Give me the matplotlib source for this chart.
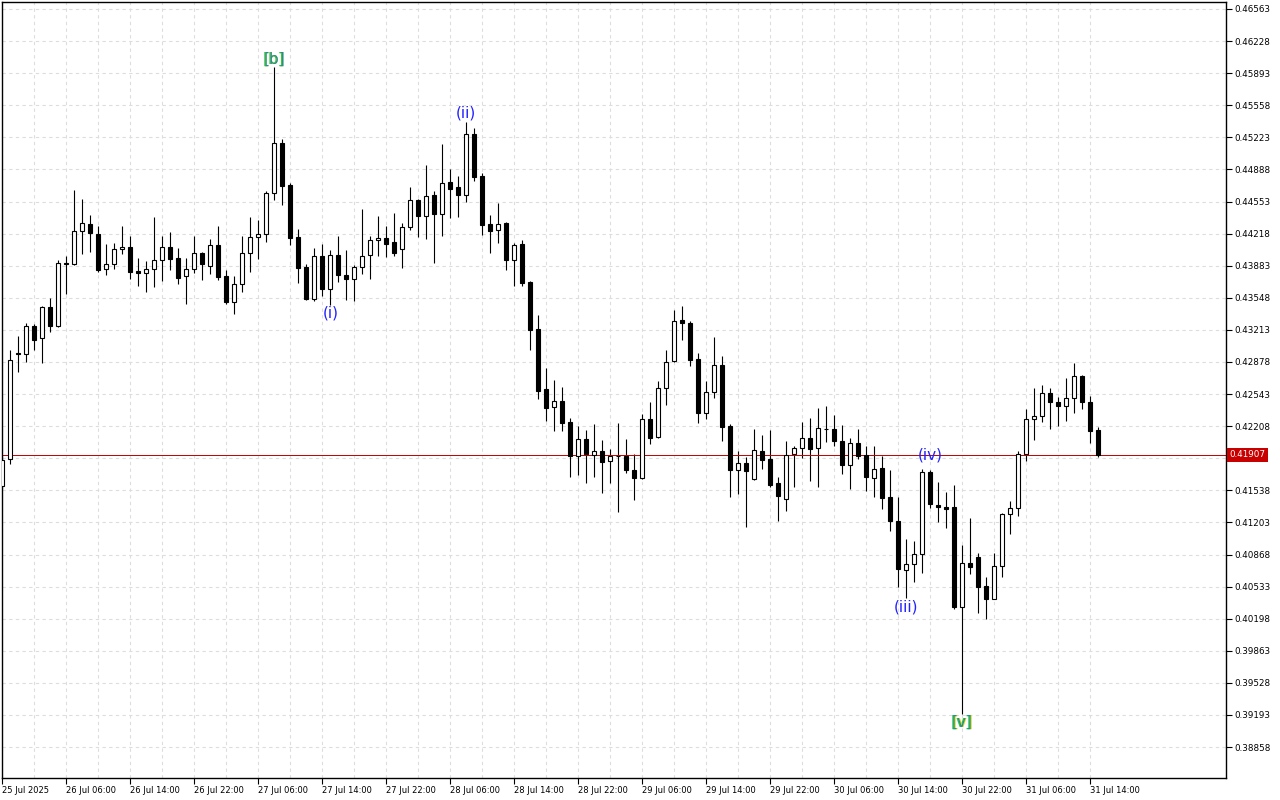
import numpy as np
import pandas as pd
import matplotlib
matplotlib.use("Agg")
import matplotlib.pyplot as plt
import matplotlib.transforms as mtransforms

# hourly bars, 25 Jul 22:00 -> 31 Jul 15:00
start = pd.Timestamp("2025-07-25 22:00")

opens = [
    0.41583, 0.41862, 0.42969, 0.42965, 0.43251, 0.43125, 0.43449, 0.43257, 0.43908, 0.43898,
    0.44242, 0.44319, 0.44214, 0.43846, 0.43898, 0.44055, 0.44075, 0.43828, 0.43804, 0.43846,
    0.43940, 0.44075, 0.43961, 0.43773, 0.43852, 0.44013, 0.43877, 0.44096, 0.43773, 0.43507,
    0.43695, 0.44013, 0.44180, 0.44211, 0.44639, 0.45161, 0.44723, 0.44180, 0.43867, 0.43539,
    0.43981, 0.43643, 0.43992, 0.43783, 0.43741, 0.43873, 0.43992, 0.44148, 0.44172, 0.44128,
    0.44055, 0.44284, 0.44569, 0.44405, 0.44618, 0.44426, 0.44757, 0.44702, 0.44618, 0.45255,
    0.44817, 0.44319, 0.44253, 0.44326, 0.43946, 0.44107, 0.43710, 0.43219, 0.42593, 0.42405,
    0.42468, 0.42248, 0.41894, 0.42071, 0.41904, 0.41946, 0.41841, 0.41897, 0.41897, 0.41747,
    0.41670, 0.42280, 0.42092, 0.42603, 0.42885, 0.43313, 0.43282, 0.42906, 0.42342, 0.42562,
    0.42843, 0.42207, 0.41754, 0.41820, 0.41657, 0.41946, 0.41862, 0.41612, 0.41445, 0.41914,
    0.41977, 0.42081, 0.41977, 0.42175, 0.42175, 0.42050, 0.41800, 0.42029, 0.41904, 0.41664,
    0.41768, 0.41465, 0.41215, 0.40703, 0.40766, 0.40870, 0.41733, 0.41388, 0.41361, 0.41361,
    0.40323, 0.40777, 0.40839, 0.40536, 0.40407, 0.40745, 0.41288, 0.41351, 0.41914, 0.42280,
    0.42311, 0.42551, 0.42457, 0.42416, 0.42499, 0.42729, 0.42457, 0.42165]

highs = [
    0.41897, 0.43000, 0.43149, 0.43282, 0.43275, 0.43466, 0.43546, 0.43943, 0.43985, 0.44674,
    0.44580, 0.44413, 0.44298, 0.44107, 0.44120, 0.44298, 0.44193, 0.43961, 0.43932, 0.44392,
    0.44190, 0.44235, 0.44065, 0.43961, 0.44190, 0.44023, 0.44159, 0.44298, 0.43838, 0.43773,
    0.44190, 0.44392, 0.44360, 0.44666, 0.45961, 0.45206, 0.44744, 0.44263, 0.43898, 0.44065,
    0.44110, 0.44044, 0.44190, 0.44047, 0.43887, 0.44475, 0.44193, 0.44402, 0.44298, 0.44433,
    0.44329, 0.44702, 0.44576, 0.44935, 0.44660, 0.45154, 0.44890, 0.44820, 0.45383, 0.45318,
    0.44848, 0.44409, 0.44535, 0.44336, 0.44117, 0.44148, 0.43724, 0.43369, 0.42815, 0.42690,
    0.42617, 0.42293, 0.42207, 0.42168, 0.42231, 0.42061, 0.41967, 0.42241, 0.42074, 0.41918,
    0.42332, 0.42460, 0.42680, 0.43003, 0.43421, 0.43463, 0.43306, 0.42972, 0.42680, 0.43136,
    0.42937, 0.42231, 0.41949, 0.41889, 0.42179, 0.42116, 0.42168, 0.41674, 0.42053, 0.42004,
    0.42248, 0.42290, 0.42395, 0.42419, 0.42322, 0.42220, 0.42081, 0.42175, 0.42001, 0.42001,
    0.41894, 0.41750, 0.41465, 0.41033, 0.41012, 0.41761, 0.41750, 0.41622, 0.41521, 0.41591,
    0.40968, 0.41246, 0.40881, 0.40630, 0.40884, 0.41302, 0.41427, 0.41949, 0.42384, 0.42607,
    0.42638, 0.42607, 0.42509, 0.42708, 0.42864, 0.42737, 0.42520, 0.42196]

lows = [
    0.41552, 0.41816, 0.42777, 0.42881, 0.43003, 0.42871, 0.43194, 0.43246, 0.43591, 0.43891,
    0.44002, 0.44029, 0.43821, 0.43789, 0.43846, 0.44009, 0.43741, 0.43675, 0.43612, 0.43664,
    0.43727, 0.43842, 0.43695, 0.43487, 0.43804, 0.43737, 0.43800, 0.43737, 0.43487, 0.43382,
    0.43612, 0.43821, 0.43956, 0.44134, 0.44569, 0.44520, 0.44103, 0.43700, 0.43522, 0.43518,
    0.43570, 0.43470, 0.43716, 0.43528, 0.43518, 0.43797, 0.43748, 0.43988, 0.43977, 0.43988,
    0.43862, 0.44259, 0.44186, 0.44165, 0.43915, 0.44196, 0.44384, 0.44395, 0.44545, 0.44771,
    0.44201, 0.44019, 0.44123, 0.43838, 0.43675, 0.43675, 0.43006, 0.42492, 0.42265, 0.42161,
    0.42161, 0.41681, 0.41698, 0.41618, 0.41681, 0.41514, 0.41618, 0.41315, 0.41722, 0.41440,
    0.41660, 0.42025, 0.42085, 0.42432, 0.42880, 0.43111, 0.42839, 0.42244, 0.42286, 0.42505,
    0.42056, 0.41472, 0.41503, 0.41159, 0.41646, 0.41761, 0.41570, 0.41221, 0.41326, 0.41576,
    0.41879, 0.41639, 0.41576, 0.42040, 0.42004, 0.41709, 0.41555, 0.41862, 0.41528, 0.41465,
    0.41340, 0.41117, 0.40526, 0.40411, 0.40584, 0.40678, 0.41351, 0.41211, 0.41148, 0.40303,
    0.39203, 0.40662, 0.40255, 0.40192, 0.40401, 0.40637, 0.41086, 0.41267, 0.41841, 0.42067,
    0.42255, 0.42182, 0.42210, 0.42265, 0.42349, 0.42384, 0.42036, 0.41889]

closes = [
    0.41855, 0.42896, 0.42961, 0.43251, 0.43111, 0.43449, 0.43257, 0.43908, 0.43898, 0.44242,
    0.44326, 0.44222, 0.43842, 0.43898, 0.44055, 0.44075, 0.43821, 0.43804, 0.43846, 0.43940,
    0.44075, 0.43956, 0.43758, 0.43852, 0.44013, 0.43904, 0.44096, 0.43768, 0.43507, 0.43695,
    0.44013, 0.44180, 0.44214, 0.44639, 0.45161, 0.44718, 0.44176, 0.43862, 0.43539, 0.43981,
    0.43643, 0.43992, 0.43789, 0.43748, 0.43873, 0.43981, 0.44148, 0.44172, 0.44113, 0.44019,
    0.44284, 0.44566, 0.44405, 0.44608, 0.44426, 0.44744, 0.44687, 0.44624, 0.45255, 0.44812,
    0.44311, 0.44249, 0.44315, 0.43946, 0.44096, 0.43706, 0.43215, 0.42578, 0.42401, 0.42468,
    0.42244, 0.41900, 0.42071, 0.41918, 0.41946, 0.41837, 0.41897, 0.41892, 0.41754, 0.41670,
    0.42280, 0.42088, 0.42603, 0.42875, 0.43303, 0.43282, 0.42902, 0.42349, 0.42562, 0.42843,
    0.42196, 0.41754, 0.41820, 0.41743, 0.41956, 0.41858, 0.41594, 0.41482, 0.41904, 0.41977,
    0.42081, 0.41973, 0.42186, 0.42175, 0.42050, 0.41798, 0.42029, 0.41894, 0.41674, 0.41758,
    0.41461, 0.41215, 0.40714, 0.40772, 0.40877, 0.41733, 0.41392, 0.41361, 0.41347, 0.40323,
    0.40783, 0.40741, 0.40532, 0.40407, 0.40745, 0.41288, 0.41351, 0.41921, 0.42280, 0.42311,
    0.42551, 0.42457, 0.42416, 0.42499, 0.42729, 0.42457, 0.42161, 0.41907]

last_price = 0.41907

y_ticks = [0.46563, 0.46228, 0.45893, 0.45558, 0.45223, 0.44888, 0.44553, 0.44218,
           0.43883, 0.43548, 0.43213, 0.42878, 0.42543, 0.42208, 0.41873, 0.41538,
           0.41203, 0.40868, 0.40533, 0.40198, 0.39863, 0.39528, 0.39193, 0.38858]

# elliott wave marks: text, bar index, price
wave_text = ["[b]", "(i)", "(ii)", "(iii)", "(iv)", "[v]"]
wave_bar = [34, 41, 58, 113, 116, 120]
wave_price = [0.46041, 0.43389, 0.45477, 0.40320, 0.41907, 0.39120]

o = np.array(opens)
h = np.array(highs)
l = np.array(lows)
c = np.array(closes)
idx = np.arange(len(o))
times = [start + pd.Timedelta(hours=int(i)) for i in idx]

fig = plt.figure(figsize=(12.8, 8), dpi=100)
ax = fig.add_axes([2 / 1280, 22 / 800, 1224 / 1280, 776 / 800])

bull = c >= o
# wicks
ax.vlines(idx, l, h, color="black", linewidth=0.8, zorder=2)
# bodies
ax.bar(idx, np.abs(c - o), bottom=np.minimum(o, c), width=0.5,
       color=np.where(bull, "white", "black"), edgecolor="black",
       linewidth=0.8, zorder=3)

ax.axhline(last_price, color="#c00000", linewidth=0.7, zorder=2.5)

ax.set_xlim(-0.04, 152.96)
ax.set_ylim(0.38535, 0.46636)

# x ticks every 8 hours
major = idx[::8]
labels = []
for i in major:
    t = times[i]
    labels.append(t.strftime("%d %b %Y") if i == 0 else t.strftime("%d %b %H:%M"))
ax.set_xticks(major)
ax.set_xticklabels(labels)
ax.set_xticks(idx[4::8], minor=True)
for lab in ax.get_xticklabels():
    lab.set_ha("left")
ax.tick_params(axis="x", which="major", direction="out", length=4, width=0.8,
               labelsize=6, pad=2)
ax.tick_params(axis="x", which="minor", length=0)

ax.yaxis.tick_right()
ax.set_yticks(y_ticks)
# the tick under the price tag is hidden by it
ax.set_yticklabels(["" if abs(v - last_price) < 0.0006 else f"{v:.5f}" for v in y_ticks])
ax.tick_params(axis="y", direction="out", length=4, width=0.8, labelsize=6.3, pad=2)

ax.grid(True, axis="x", which="both", color="#dddddd", linestyle=(0, (3, 3)), linewidth=0.8)
ax.grid(True, axis="y", which="major", color="#dddddd", linestyle=(0, (3, 3)), linewidth=0.8)
ax.set_axisbelow(True)
for s in ax.spines.values():
    s.set_color("black")
    s.set_linewidth(1.0)

# current price tag on the right axis
trans = mtransforms.blended_transform_factory(ax.transAxes, ax.transData)
ax.text(1.003, last_price, f"{last_price:.5f}", transform=trans, ha="left", va="center",
        color="white", fontsize=6.3, zorder=10,
        bbox=dict(boxstyle="square,pad=0.25", fc="#c80000", ec="none"))

# wave labels
for txt, b, p in zip(wave_text, wave_bar, wave_price):
    if txt.startswith("["):
        ax.text(b - 0.1, p, txt, color="#33cc33", fontsize=11, ha="center", va="center", zorder=6)
        ax.text(b + 0.1, p, txt, color="#e6d800", fontsize=11, ha="center", va="center", zorder=6)
        ax.text(b, p, txt, color="#1f8fa0", fontsize=11, ha="center", va="center", zorder=7)
    else:
        ax.text(b, p, txt, color="#2222ff", fontsize=11, ha="center", va="center", zorder=6)

fig.savefig("out.png", dpi=100, facecolor="white")
